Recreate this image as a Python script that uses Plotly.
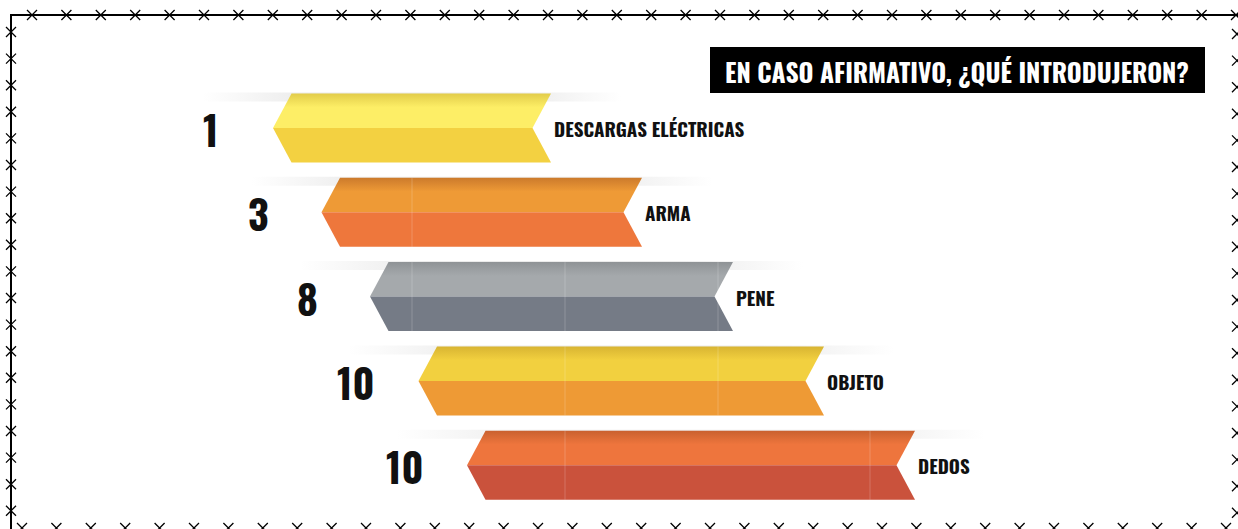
import numpy as np
import plotly.graph_objects as go

W, H = 1238, 529

titulo = "EN CASO AFIRMATIVO, ¿QUÉ INTRODUJERON?"
categorias = ["DESCARGAS ELÉCTRICAS", "ARMA", "PENE", "OBJETO", "DEDOS"]
valores = [1, 3, 8, 10, 10]

# colores cara superior / cara inferior de cada cinta
color_sup = ["#FDEE66", "#EE9A36", "#A5A9AC", "#F2D03F", "#EE753D"]
color_sup_osc = ["#E2CC4A", "#CC7A2C", "#8F9396", "#D8B432", "#C9612F"]
color_inf = ["#F3D141", "#EE773C", "#757B86", "#EE9A35", "#CA523C"]

FONT = "Oswald, Roboto Condensed, sans-serif"

fig = go.Figure()

# escalera: cada fila se desplaza a la derecha
y0, dy, h = 128, 84.3, 34.5
x_izq0, dx_izq = 273, 48.5
x_der0, dx_der = 551, 91
muesca = 18.5
divisiones = {1: [412], 2: [412, 565, 718], 3: [565, 718], 4: [565, 870]}

for i, (cat, val) in enumerate(zip(categorias, valores)):
    yc = y0 + dy * i
    xl = x_izq0 + dx_izq * i
    xr = x_der0 + dx_der * i
    top, bot = yc - h, yc + h

    # sombra suave detrás de la cinta
    fig.add_trace(go.Scatter(
        x=[xl - 70, xr + 70, xr + 70, xl - 70, xl - 70],
        y=[top - 1, top - 1, top + 8, top + 8, top - 1],
        fill="toself", mode="none", hoverinfo="skip", showlegend=False,
        fillgradient=dict(type="horizontal", start=xl - 70, stop=xr + 70,
                          colorscale=[[0, "rgba(215,215,215,0)"], [0.25, "rgba(215,215,215,0.5)"],
                                      [0.75, "rgba(215,215,215,0.5)"], [1, "rgba(215,215,215,0)"]]),
    ))

    # cara superior
    fig.add_trace(go.Scatter(
        x=[xl + muesca, xr, xr - muesca, xl, xl + muesca],
        y=[top, top, yc, yc, top],
        fill="toself", mode="none", hoverinfo="skip", showlegend=False,
        fillgradient=dict(type="vertical", start=top, stop=yc,
                          colorscale=[[0, color_sup_osc[i]], [0.4, color_sup[i]], [1, color_sup[i]]]),
    ))
    # cara inferior
    fig.add_trace(go.Scatter(
        x=[xl, xr - muesca, xr, xl + muesca, xl],
        y=[yc, yc, bot, bot, yc],
        fill="toself", fillcolor=color_inf[i], mode="none",
        hoverinfo="skip", showlegend=False,
    ))
    for xd in divisiones.get(i, []):
        fig.add_shape(type="line", x0=xd, x1=xd, y0=top, y1=bot,
                      line=dict(color="rgba(255,255,255,0.2)", width=1))

    fig.add_annotation(x=xl - 63, y=yc + 1, text=str(val), showarrow=False,
                       font=dict(family=FONT, size=40, color="#111111", weight="bold"),
                       xanchor="center", yanchor="middle")
    fig.add_annotation(x=xr + 1, y=yc, text=cat, showarrow=False,
                       font=dict(family=FONT, size=19, color="#111111", weight="bold"),
                       xanchor="left", yanchor="middle")

# borde de alambre de púas
fig.add_trace(go.Scatter(x=[W, 11, 11], y=[15, 15, H], mode="lines",
                         line=dict(color="black", width=2), hoverinfo="skip", showlegend=False))
estrella = dict(symbol="x-thin-open", size=10, color="black", line=dict(color="black", width=1.3))
top_x = np.arange(32, W, 34.4)
left_y = np.arange(32, H, 26.6)
bot_x = np.arange(22, W, 34.4)
right_y = np.arange(34, H - 15, 26.6)
for xs, ys in [(top_x, np.full(len(top_x), 15)), (np.full(len(left_y), 11), left_y),
               (bot_x, np.full(len(bot_x), 528)), (np.full(len(right_y), 1237), right_y)]:
    fig.add_trace(go.Scatter(x=xs, y=ys, mode="markers", marker=estrella,
                             hoverinfo="skip", showlegend=False))

# caja del título
fig.add_shape(type="rect", x0=710, x1=1205, y0=47, y1=93, fillcolor="black", line=dict(width=0))
fig.add_annotation(x=957, y=71, text=titulo, showarrow=False,
                   font=dict(family=FONT, size=25.5, color="white", weight="bold"),
                   xanchor="center", yanchor="middle")

fig.update_layout(
    width=W, height=H, margin=dict(l=0, r=0, t=0, b=0),
    paper_bgcolor="white", plot_bgcolor="white",
    xaxis=dict(range=[0, W], visible=False, fixedrange=True),
    yaxis=dict(range=[H, 0], visible=False, fixedrange=True),
)
fig.write_html("out.html", config={"displayModeBar": False},
               post_script="document.body.style.margin='0px';")
